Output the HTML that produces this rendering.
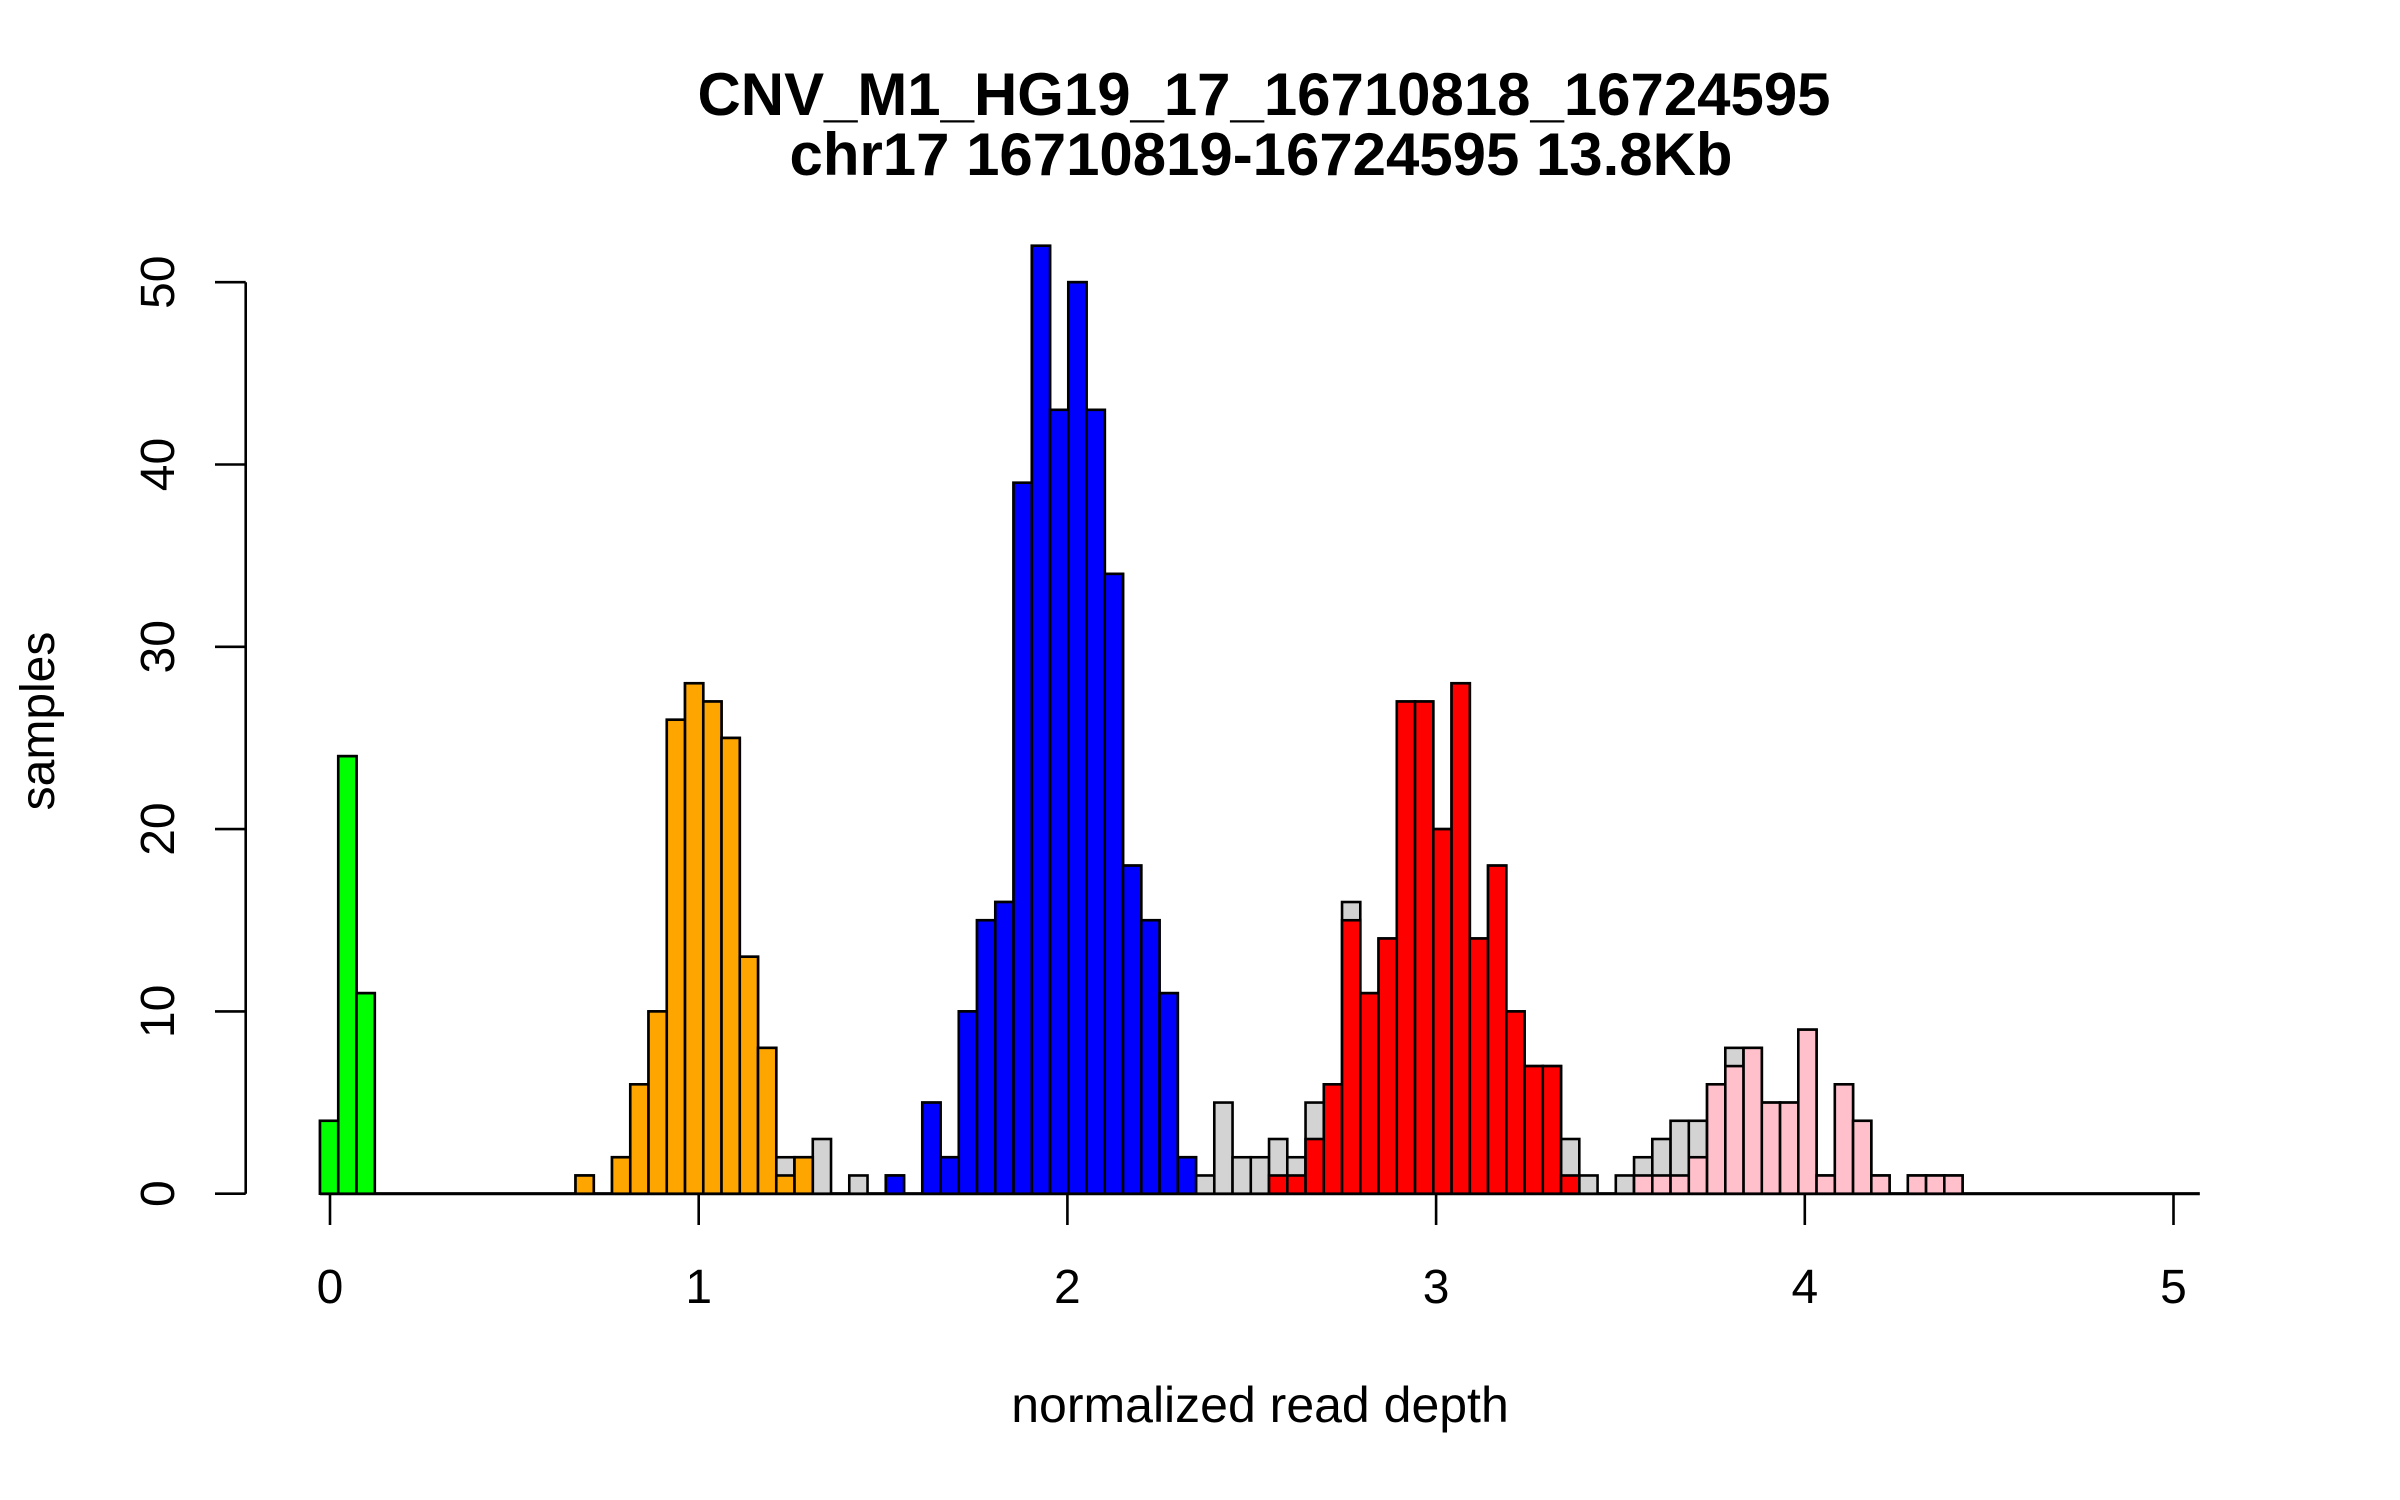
<!DOCTYPE html>
<html><head><meta charset="utf-8"><style>html,body{margin:0;padding:0;background:#fff}svg{display:block}text{font-family:"Liberation Sans",sans-serif;fill:#000}</style></head>
<body>
<svg id="chart" width="2400" height="1500" viewBox="0 0 2400 1500" xmlns="http://www.w3.org/2000/svg">
<rect width="2400" height="1500" fill="#fff"/>
<text x="1264" y="115" font-size="60" font-weight="bold" text-anchor="middle" textLength="1133" lengthAdjust="spacingAndGlyphs">CNV_M1_HG19_17_16710818_16724595</text>
<text x="1261" y="175" font-size="60" font-weight="bold" text-anchor="middle" textLength="943" lengthAdjust="spacingAndGlyphs">chr17 16710819-16724595 13.8Kb</text>
<text x="1260" y="1422" font-size="50" text-anchor="middle">normalized read depth</text>
<text x="0" y="0" font-size="48" text-anchor="middle" transform="translate(54,721) rotate(-90)">samples</text>
<g id="bars"></g>
<g id="axes"></g>
</svg>
<script>
const binStartValue = -0.0271;
const binWidthValue = 0.0495;
const totalCounts = [4,24,11,0,0,0,0,0,0,0,0,0,0,0,1,0,2,6,10,26,28,27,25,13,8,2,2,3,0,1,0,1,0,5,2,10,15,16,39,52,43,50,43,34,18,15,11,2,1,5,2,2,3,2,5,6,16,11,14,27,27,20,28,14,18,10,7,7,3,1,0,1,2,3,4,4,6,8,8,5,5,9,1,6,4,1,0,1,1,1,0,0,0,0,0,0,0,0,0,0,0,0,0];
const greenStart = 0;
const greenCounts = [4,24,11];
const orangeStart = 14;
const orangeCounts = [1,0,2,6,10,26,28,27,25,13,8,1,2];
const blueStart = 31;
const blueCounts = [1,0,5,2,10,15,16,39,52,43,50,43,34,18,15,11,2];
const redStart = 52;
const redCounts = [1,1,3,6,15,11,14,27,27,20,28,14,18,10,7,7,1];
const pinkStart = 72;
const pinkCounts = [1,1,1,2,6,7,8,5,5,9,1,6,4,1,0,1,1,1];
const xTicks = [0,1,2,3,4,5];
const xTickLabels = ["0","1","2","3","4","5"];
const yTicks = [0,10,20,30,40,50];
const yTickLabels = ["0","10","20","30","40","50"];

const NS = "http://www.w3.org/2000/svg";
function xs(v){ return 330 + (v) * 368.7; }
function ys(v){ return 1193.7 - v * 18.23; }
const bars = document.getElementById('bars');
const axes = document.getElementById('axes');
function mk(tag, attrs){ const e=document.createElementNS(NS,tag); for(const k in attrs) e.setAttribute(k, attrs[k]); return e; }

const base = mk('line',{x1:xs(binStartValue), x2:xs(binStartValue + totalCounts.length*binWidthValue), y1:ys(0), y2:ys(0), stroke:'#000','stroke-width':3.2});


bars.appendChild(base);

function drawBar(i, count, fill, name){
  const x0 = xs(binStartValue + i*binWidthValue);
  const x1 = xs(binStartValue + (i+1)*binWidthValue);
  const r = mk('rect',{x:x0, y:ys(count), width:x1-x0, height:ys(0)-ys(count), fill:fill, stroke:'#000', 'stroke-width':2.6});
  
  
  bars.appendChild(r);
}
totalCounts.forEach((c,i)=>{ if(c>0) drawBar(i, c, '#d3d3d3', 'bar-all-samples'); });
function drawGroup(start, arr, fill, name){
  arr.forEach((c,j)=>{ if(c>0) drawBar(start+j, c, fill, name); });
}
drawGroup(greenStart, greenCounts, '#00ff00', 'bar-green-group');
drawGroup(orangeStart, orangeCounts, '#ffa500', 'bar-orange-group');
drawGroup(blueStart, blueCounts, '#0000ff', 'bar-blue-group');
drawGroup(redStart, redCounts, '#ff0000', 'bar-red-group');
drawGroup(pinkStart, pinkCounts, '#ffc0cb', 'bar-pink-group');

xTicks.forEach((t,i)=>{
  const l = mk('line',{x1:xs(t), x2:xs(t), y1:1194, y2:1225, stroke:'#000','stroke-width':2.6});
  
  
  axes.appendChild(l);
  const tx = mk('text',{x:xs(t), y:1303, 'font-size':48, 'text-anchor':'middle'});
  tx.textContent = xTickLabels[i];
  
  
  axes.appendChild(tx);
});
const yl = mk('line',{x1:245.7, x2:245.7, y1:ys(yTicks[0]), y2:ys(yTicks[yTicks.length-1]), stroke:'#000','stroke-width':2.6});


axes.appendChild(yl);
yTicks.forEach((t,i)=>{
  const l = mk('line',{x1:215, x2:245.7, y1:ys(t), y2:ys(t), stroke:'#000','stroke-width':2.6});
  
  
  axes.appendChild(l);
  const tx = mk('text',{x:0, y:0, 'font-size':48, 'text-anchor':'middle', transform:'translate(174,'+ys(t)+') rotate(-90)'});
  tx.textContent = yTickLabels[i];
  
  
  axes.appendChild(tx);
});
</script>
</body></html>
